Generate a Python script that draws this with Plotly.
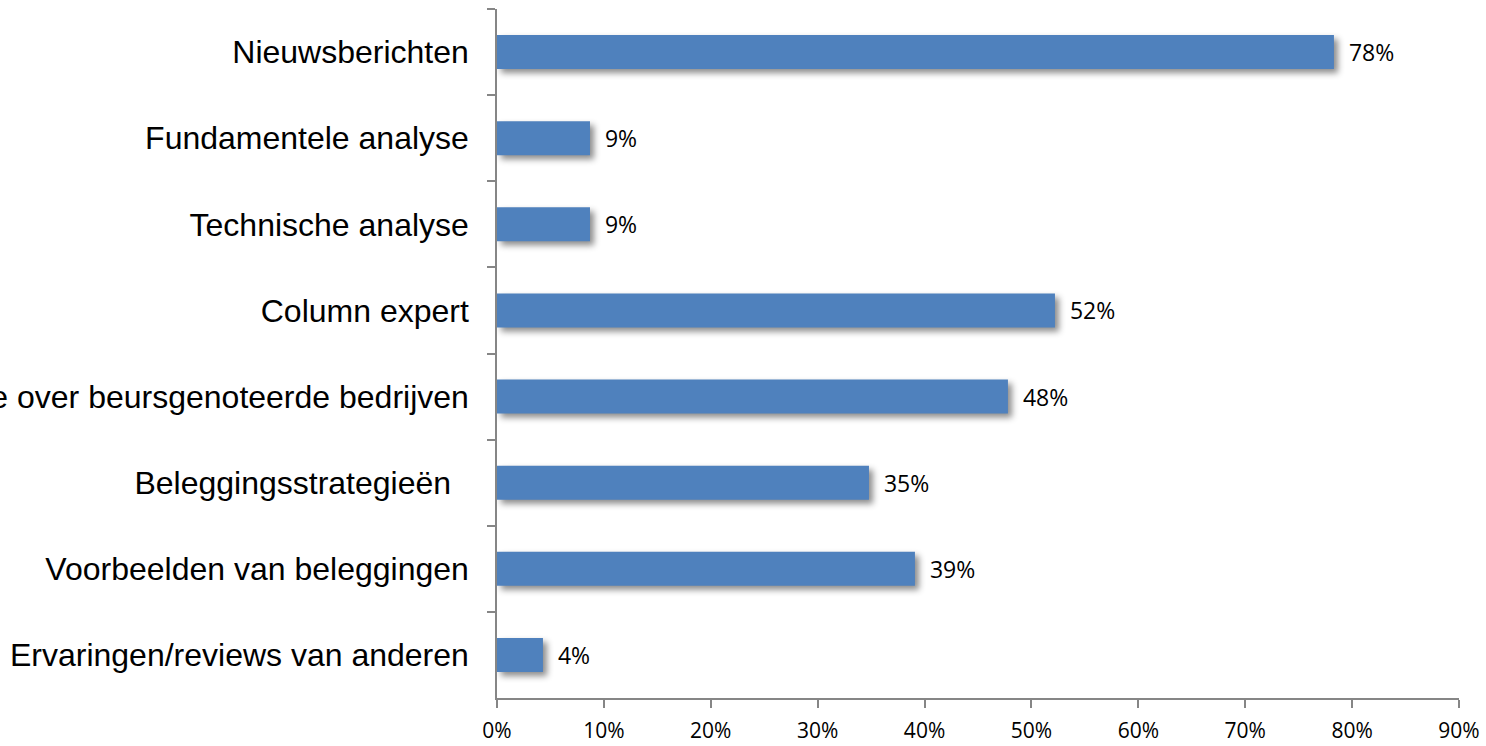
import plotly.graph_objects as go

# Information sources, top to bottom
categories = [
    "Nieuwsberichten",
    "Fundamentele analyse",
    "Technische analyse",
    "Column expert",
    "Informatie over beursgenoteerde bedrijven",
    "Beleggingsstrategieën\u00a0\u00a0",
    "Voorbeelden van beleggingen",
    "Ervaringen/reviews van anderen",
]
# Share of respondents (%)
shares = [78.3, 8.7, 8.7, 52.2, 47.8, 34.8, 39.1, 4.3]

x_ticks = [0, 10, 20, 30, 40, 50, 60, 70, 80, 90]
x_tick_labels = ["0%", "10%", "20%", "30%", "40%", "50%", "60%", "70%", "80%", "90%"]

BAR_COLOR = "#4F81BD"
AXIS_COLOR = "#868686"
LABEL_FONT = "Liberation Sans, Arial, sans-serif"
NUM_FONT = "Open Sans, Noto Sans, sans-serif"

fig = go.Figure(
    go.Bar(
        x=shares,
        y=categories,
        orientation="h",
        marker=dict(color=BAR_COLOR, line=dict(width=0)),
        texttemplate="\u00a0\u00a0%{x:.0f}%",
        textposition="outside",
        textfont=dict(family=NUM_FONT, size=23, color="#000000"),
        cliponaxis=False,
        hoverinfo="skip",
    )
)

fig.update_layout(
    width=1486,
    height=746,
    margin=dict(l=497, r=27, t=9, b=48),
    paper_bgcolor="white",
    plot_bgcolor="white",
    bargap=0.605,
    showlegend=False,
)

fig.update_xaxes(
    range=[0, 90],
    tickvals=x_ticks,
    ticktext=x_tick_labels,
    showgrid=False,
    zeroline=False,
    showline=True,
    linecolor=AXIS_COLOR,
    linewidth=1.5,
    ticks="outside",
    ticklen=8,
    tickwidth=1.5,
    tickcolor=AXIS_COLOR,
    tickfont=dict(family=NUM_FONT, size=21, color="#000000"),
    ticklabelstandoff=5,
    automargin=False,
    fixedrange=True,
)

fig.update_yaxes(
    categoryorder="array",
    categoryarray=categories,
    autorange="reversed",
    showgrid=False,
    zeroline=False,
    showline=True,
    linecolor=AXIS_COLOR,
    linewidth=1.5,
    ticks="outside",
    tickson="boundaries",
    ticklen=8,
    tickwidth=1.5,
    tickcolor=AXIS_COLOR,
    tickfont=dict(family=LABEL_FONT, size=32, color="#000000"),
    ticklabelstandoff=20,
    automargin=False,
    fixedrange=True,
)

# Soft drop shadow under the bars
shadow_js = """
var s = document.createElement('style');
s.textContent = '.barlayer .point path{filter:drop-shadow(4px 4px 3px rgba(0,0,0,0.45));}';
document.head.appendChild(s);
"""

fig.write_html("out.html", post_script=shadow_js, config={"displayModeBar": False})
